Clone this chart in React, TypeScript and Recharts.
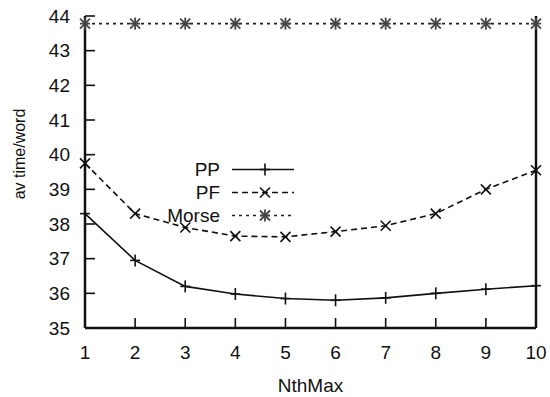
import React from 'react';
import { LineChart, Line, XAxis, YAxis, Legend } from 'recharts';

const nthMax = [1, 2, 3, 4, 5, 6, 7, 8, 9, 10];
const ppValues = [38.3, 36.95, 36.2, 35.98, 35.85, 35.8, 35.87, 36.0, 36.12, 36.22];
const pfValues = [39.75, 38.3, 37.9, 37.65, 37.63, 37.78, 37.95, 38.3, 39.0, 39.55];
const morseValues = [43.78, 43.78, 43.78, 43.78, 43.78, 43.78, 43.78, 43.78, 43.78, 43.78];
const xTicks = [1, 2, 3, 4, 5, 6, 7, 8, 9, 10];
const yTicks = [35, 36, 37, 38, 39, 40, 41, 42, 43, 44];

const data = nthMax.map((n, i) => ({ n, PP: ppValues[i], PF: pfValues[i], Morse: morseValues[i] }));

const FONT = '"Liberation Sans", Arial, Helvetica, sans-serif';

type MarkerKind = 'plus' | 'cross' | 'star';

const Marker = ({ cx, cy, kind, s = 5 }: { cx: number; cy: number; kind: MarkerKind; s?: number }) => {
  if (cx == null || cy == null) return null;
  if (kind === 'plus') {
    return (
      <g stroke="#111" strokeWidth={1.6}>
        <line x1={cx - s} y1={cy} x2={cx + s} y2={cy} />
        <line x1={cx} y1={cy - s - 1} x2={cx} y2={cy + s + 1} />
      </g>
    );
  }
  if (kind === 'cross') {
    return (
      <g stroke="#111" strokeWidth={1.6}>
        <line x1={cx - s} y1={cy - s} x2={cx + s} y2={cy + s} />
        <line x1={cx - s} y1={cy + s} x2={cx + s} y2={cy - s} />
      </g>
    );
  }
  return (
    <g stroke="#444" strokeWidth={1.8}>
      <line x1={cx - s} y1={cy - s} x2={cx + s} y2={cy + s} />
      <line x1={cx - s} y1={cy + s} x2={cx + s} y2={cy - s} />
      <line x1={cx} y1={cy - s - 1} x2={cx} y2={cy + s + 1} />
      <line x1={cx - s} y1={cy} x2={cx + s} y2={cy} />
    </g>
  );
};

const makeDot = (kind: MarkerKind) => (props: any) => (
  <Marker key={`${kind}-${props.index}`} cx={props.cx} cy={props.cy} kind={kind} />
);

const seriesStyle: { key: string; kind: MarkerKind; dash?: string; color: string }[] = [
  { key: 'PP', kind: 'plus', color: '#111' },
  { key: 'PF', kind: 'cross', dash: '6 4', color: '#111' },
  { key: 'Morse', kind: 'star', dash: '3 4', color: '#222' },
];

const LegendContent = () => (
  <div style={{ fontFamily: FONT, fontSize: 19, color: '#111' }}>
    {seriesStyle.map((s) => (
      <div key={s.key} style={{ display: 'flex', alignItems: 'center', height: 23 }}>
        <div style={{ width: 70, textAlign: 'right', lineHeight: '23px' }}>{s.key}</div>
        <svg width={70} height={23} style={{ marginLeft: 12 }}>
          <line x1={0} y1={11.5} x2={62} y2={11.5} stroke={s.color} strokeWidth={1.6} strokeDasharray={s.dash} />
          <Marker cx={33} cy={11.5} kind={s.kind} />
        </svg>
      </div>
    ))}
  </div>
);

const YLabel = () => (
  <text
    x={19}
    y={154}
    transform="rotate(-90 19 154)"
    textAnchor="middle"
    dominantBaseline="central"
    fontFamily={FONT}
    fontSize={16}
    fill="#111"
  >
    av time/word
  </text>
);

export default function App() {
  return (
    <div style={{ position: 'absolute', left: 0, top: 0, width: 550, height: 397, background: '#fff' }}>
      <LineChart width={550} height={397} data={data} margin={{ top: 16, right: 0, bottom: 0, left: 0 }}>
        <XAxis
          xAxisId="b"
          dataKey="n"
          type="number"
          domain={[1, 10]}
          ticks={xTicks}
          interval={0}
          height={69}
          tickSize={-10}
          tickMargin={28}
          axisLine={{ stroke: '#111', strokeWidth: 2.5 }}
          tickLine={{ stroke: '#111', strokeWidth: 1.6 }}
          tick={{ fontFamily: FONT, fontSize: 19, fill: '#111' }}
          label={{ value: 'NthMax', position: 'insideBottom', offset: 5, fontFamily: FONT, fontSize: 19, fill: '#111' }}
        />
        <XAxis
          xAxisId="t"
          orientation="top"
          dataKey="n"
          type="number"
          domain={[1, 10]}
          ticks={xTicks}
          height={0}
          tick={false}
          tickLine={false}
          axisLine={{ stroke: '#111', strokeWidth: 2.5 }}
        />
        <YAxis
          yAxisId="l"
          type="number"
          domain={[35, 44]}
          ticks={yTicks}
          interval={0}
          width={85}
          tickSize={-10}
          tickMargin={25}
          axisLine={{ stroke: '#111', strokeWidth: 2.5 }}
          tickLine={{ stroke: '#111', strokeWidth: 1.6 }}
          tick={{ fontFamily: FONT, fontSize: 19, fill: '#111' }}
          label={<YLabel />}
        />
        <YAxis
          yAxisId="r"
          orientation="right"
          type="number"
          domain={[35, 44]}
          ticks={yTicks}
          interval={0}
          width={14}
          tickSize={-10}
          tick={false}
          axisLine={{ stroke: '#111', strokeWidth: 2.5 }}
          tickLine={{ stroke: '#111', strokeWidth: 1.6 }}
        />
        <Legend
          layout="vertical"
          align="center"
          verticalAlign="middle"
          content={<LegendContent />}
          wrapperStyle={{ position: 'absolute', left: 150, top: 158, width: 160, height: 70 }}
        />
        {seriesStyle.map((s) => (
          <Line
            key={s.key}
            xAxisId="b"
            yAxisId="l"
            type="linear"
            dataKey={s.key}
            stroke={s.color}
            strokeWidth={1.6}
            strokeDasharray={s.dash}
            dot={makeDot(s.kind)}
            activeDot={false}
            isAnimationActive={false}
          />
        ))}
      </LineChart>
    </div>
  );
}
